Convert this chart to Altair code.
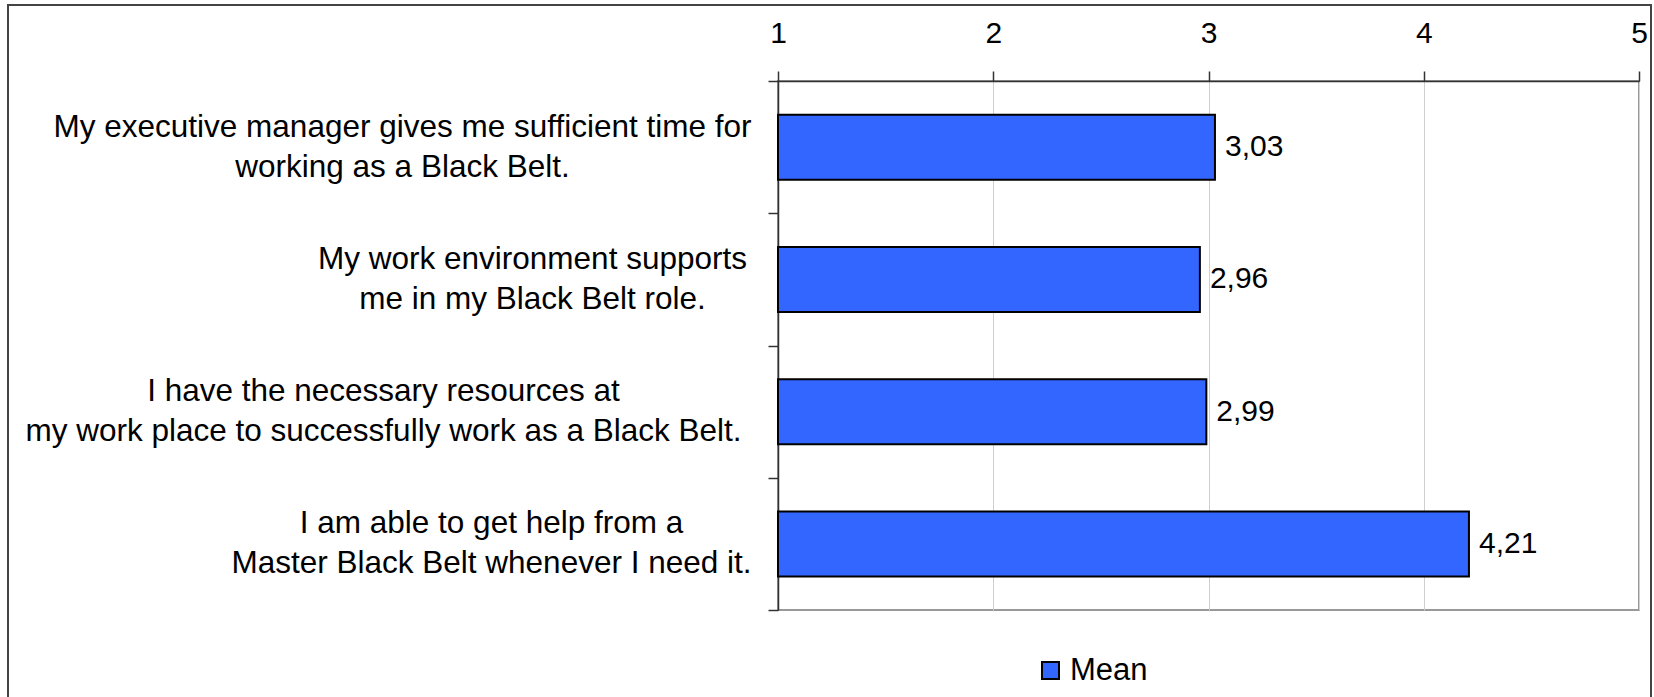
import json

import altair as alt
import pandas as pd

# Survey statements (line breaks mark where each label wraps) and their mean scores
questions = [
    "My executive manager gives me sufficient time for\nworking as a Black Belt.",
    "My work environment supports\nme in my Black Belt role.",
    "I have the necessary resources at\nmy work place to successfully work as a Black Belt.",
    "I am able to get help from a\nMaster Black Belt whenever I need it.",
]
means = [3.03, 2.96, 2.99, 4.21]
series = ["Mean", "Mean", "Mean", "Mean"]
x_ticks = [1, 2, 3, 4, 5]

df = pd.DataFrame({"question": questions, "mean": means, "series": series})

FONT = "Liberation Sans"
W, H = 861, 529
BAR_BLUE = "#3366ff"
BAR_THICKNESS = 65

# Each wrapped label is centred line by line, with the block flush against the axis:
# push the centre of every block away from the axis by half of its widest line.
half_widths = [349, 219, 368, 260]
domain_list = "[" + ",".join(json.dumps(q) for q in questions) + "]"
half_list = "[" + ",".join(str(h) for h in half_widths) + "]"
label_pad = alt.ExprRef(f"17 + {half_list}[indexof({domain_list}, datum.value)]")

y_enc = alt.Y(
    "question:N",
    sort=questions,
    scale=alt.Scale(paddingInner=0, paddingOuter=0),
    axis=alt.Axis(
        title=None,
        labelExpr="split(datum.label, '\\n')",
        labelAlign="center",
        labelBaseline="middle",
        labelFontSize=31.5,
        labelLineHeight=40,
        labelOffset=-20,
        labelPadding=label_pad,
        labelLimit=0,
        tickBand="extent",
        tickSize=10,
        grid=False,
    ),
)

x_scale = alt.Scale(domain=[1, 5], nice=False, zero=False)

bars = alt.Chart(df).mark_bar(stroke="black", strokeWidth=2, size=BAR_THICKNESS).encode(
    x=alt.X(
        "mean:Q",
        scale=x_scale,
        axis=alt.Axis(
            orient="top",
            values=x_ticks,
            format="d",
            title=None,
            labelFontSize=30,
            labelPadding=23,
            labelFlush=False,
            tickSize=10,
            grid=True,
            gridColor="#cfcfcf",
            gridWidth=1,
        ),
    ),
    x2=alt.datum(1),
    y=y_enc,
    color=alt.Color(
        "series:N",
        scale=alt.Scale(range=[BAR_BLUE]),
        legend=alt.Legend(
            title=None,
            orient="none",
            legendX=257,
            legendY=574,
            symbolType="square",
            symbolSize=289,
            symbolStrokeColor="black",
            symbolStrokeWidth=2,
            symbolOpacity=1,
            labelFontSize=31,
            labelFont=FONT,
            labelColor="black",
            labelOffset=4,
            padding=0,
        ),
    ),
)

values = (
    alt.Chart(df)
    .transform_calculate(value_label="replace(format(datum.mean, '.2f'), '.', ',')")
    .mark_text(align="left", baseline="middle", dx=10, fontSize=30, font=FONT, color="black")
    .encode(x=alt.X("mean:Q", scale=x_scale), y=alt.Y("question:N", sort=questions), text="value_label:N")
)

# Outer border around the whole figure
frame = (
    alt.Chart(pd.DataFrame({"f": [0]}))
    .mark_rect(fillOpacity=0, stroke="#444444", strokeWidth=2)
    .encode(x=alt.value(-770), x2=alt.value(873), y=alt.value(-76), y2=alt.value(640))
)

chart = (
    alt.layer(frame, bars, values)
    .properties(
        width=W,
        height=H,
        padding={"left": 778, "top": 81, "right": 15, "bottom": 87},
        autosize=alt.AutoSizeParams(type="none"),
        background="white",
    )
    .configure_view(stroke="#999999", strokeWidth=2)
    .configure_axis(
        labelFont=FONT,
        labelColor="black",
        domainColor="#333333",
        domainWidth=1.5,
        tickColor="#333333",
        tickWidth=1.5,
    )
)

chart.save("out.html", embed_options={"renderer": "svg", "actions": False})
